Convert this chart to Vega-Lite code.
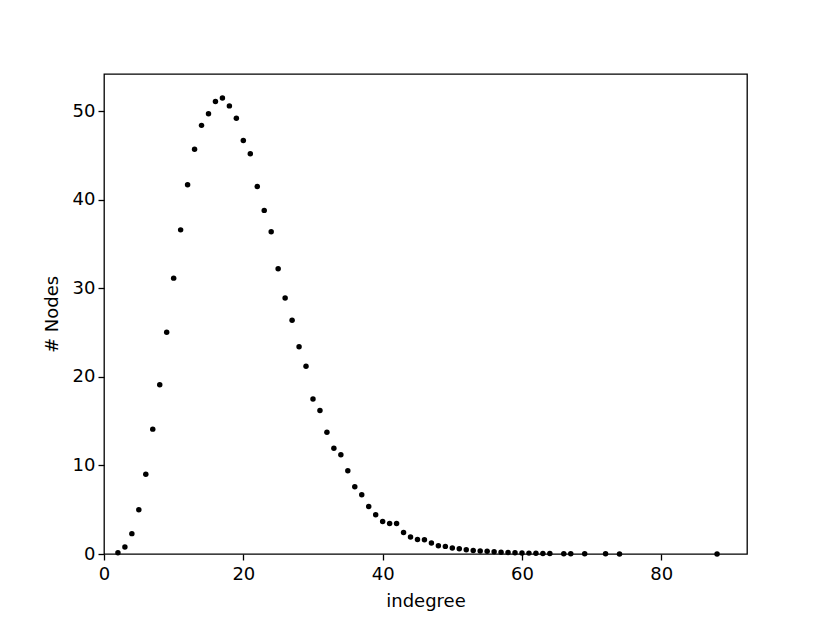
{
  "$schema": "https://vega.github.io/schema/vega-lite/v6.json",
  "autosize": {"type": "none"},
  "padding": {"left": 104, "top": 74, "right": 83, "bottom": 69},
  "width": 643,
  "height": 480,
  "background": "white",
  "config": {
    "view": {"stroke": "black", "strokeWidth": 1.3},
    "axis": {
      "domain": false,
      "grid": false,
      "ticks": true,
      "tickColor": "black",
      "tickSize": 6,
      "tickWidth": 1.3,
      "labelFont": "DejaVu Sans",
      "labelFontSize": 18,
      "labelColor": "black",
      "labelPadding": 3,
      "labelFlush": false,
      "labelOverlap": false,
      "titleFont": "DejaVu Sans",
      "titleFontSize": 18,
      "titleFontWeight": "normal",
      "titleColor": "black"
    }
  },
  "data": {
    "values": [
      {"indegree": 2, "nodes": 0.15},
      {"indegree": 3, "nodes": 0.8},
      {"indegree": 4, "nodes": 2.3},
      {"indegree": 5, "nodes": 5.0},
      {"indegree": 6, "nodes": 9.0},
      {"indegree": 7, "nodes": 14.1},
      {"indegree": 8, "nodes": 19.1},
      {"indegree": 9, "nodes": 25.05},
      {"indegree": 10, "nodes": 31.15},
      {"indegree": 11, "nodes": 36.6},
      {"indegree": 12, "nodes": 41.7},
      {"indegree": 13, "nodes": 45.7},
      {"indegree": 14, "nodes": 48.4},
      {"indegree": 15, "nodes": 49.7},
      {"indegree": 16, "nodes": 51.1},
      {"indegree": 17, "nodes": 51.5},
      {"indegree": 18, "nodes": 50.6},
      {"indegree": 19, "nodes": 49.2},
      {"indegree": 20, "nodes": 46.7},
      {"indegree": 21, "nodes": 45.2},
      {"indegree": 22, "nodes": 41.5},
      {"indegree": 23, "nodes": 38.8},
      {"indegree": 24, "nodes": 36.4},
      {"indegree": 25, "nodes": 32.2},
      {"indegree": 26, "nodes": 28.9},
      {"indegree": 27, "nodes": 26.4},
      {"indegree": 28, "nodes": 23.4},
      {"indegree": 29, "nodes": 21.2},
      {"indegree": 30, "nodes": 17.5},
      {"indegree": 31, "nodes": 16.2},
      {"indegree": 32, "nodes": 13.75},
      {"indegree": 33, "nodes": 11.95},
      {"indegree": 34, "nodes": 11.2},
      {"indegree": 35, "nodes": 9.4},
      {"indegree": 36, "nodes": 7.6},
      {"indegree": 37, "nodes": 6.7},
      {"indegree": 38, "nodes": 5.37},
      {"indegree": 39, "nodes": 4.43},
      {"indegree": 40, "nodes": 3.68},
      {"indegree": 41, "nodes": 3.45},
      {"indegree": 42, "nodes": 3.45},
      {"indegree": 43, "nodes": 2.44},
      {"indegree": 44, "nodes": 1.92},
      {"indegree": 45, "nodes": 1.65},
      {"indegree": 46, "nodes": 1.6},
      {"indegree": 47, "nodes": 1.24},
      {"indegree": 48, "nodes": 0.94},
      {"indegree": 49, "nodes": 0.86},
      {"indegree": 50, "nodes": 0.68},
      {"indegree": 51, "nodes": 0.6},
      {"indegree": 52, "nodes": 0.48},
      {"indegree": 53, "nodes": 0.4},
      {"indegree": 54, "nodes": 0.35},
      {"indegree": 55, "nodes": 0.3},
      {"indegree": 56, "nodes": 0.25},
      {"indegree": 57, "nodes": 0.2},
      {"indegree": 58, "nodes": 0.18},
      {"indegree": 59, "nodes": 0.15},
      {"indegree": 60, "nodes": 0.12},
      {"indegree": 61, "nodes": 0.1},
      {"indegree": 62, "nodes": 0.08},
      {"indegree": 63, "nodes": 0.06},
      {"indegree": 64, "nodes": 0.05},
      {"indegree": 66, "nodes": 0.04},
      {"indegree": 67, "nodes": 0.03},
      {"indegree": 69, "nodes": 0.02},
      {"indegree": 72, "nodes": 0.02},
      {"indegree": 74, "nodes": 0.01},
      {"indegree": 88, "nodes": 0.01}
    ]
  },
  "mark": {"type": "circle", "color": "black", "size": 30, "opacity": 1},
  "encoding": {
    "x": {
      "field": "indegree",
      "type": "quantitative",
      "title": "indegree",
      "scale": {"domain": [0, 92.3], "nice": false, "zero": false},
      "axis": {"values": [0, 20, 40, 60, 80], "labelPadding": 5, "titlePadding": 9}
    },
    "y": {
      "field": "nodes",
      "type": "quantitative",
      "title": "# Nodes",
      "scale": {"domain": [0, 54.2], "nice": false, "zero": false},
      "axis": {"values": [0, 10, 20, 30, 40, 50], "titlePadding": 11}
    }
  }
}
